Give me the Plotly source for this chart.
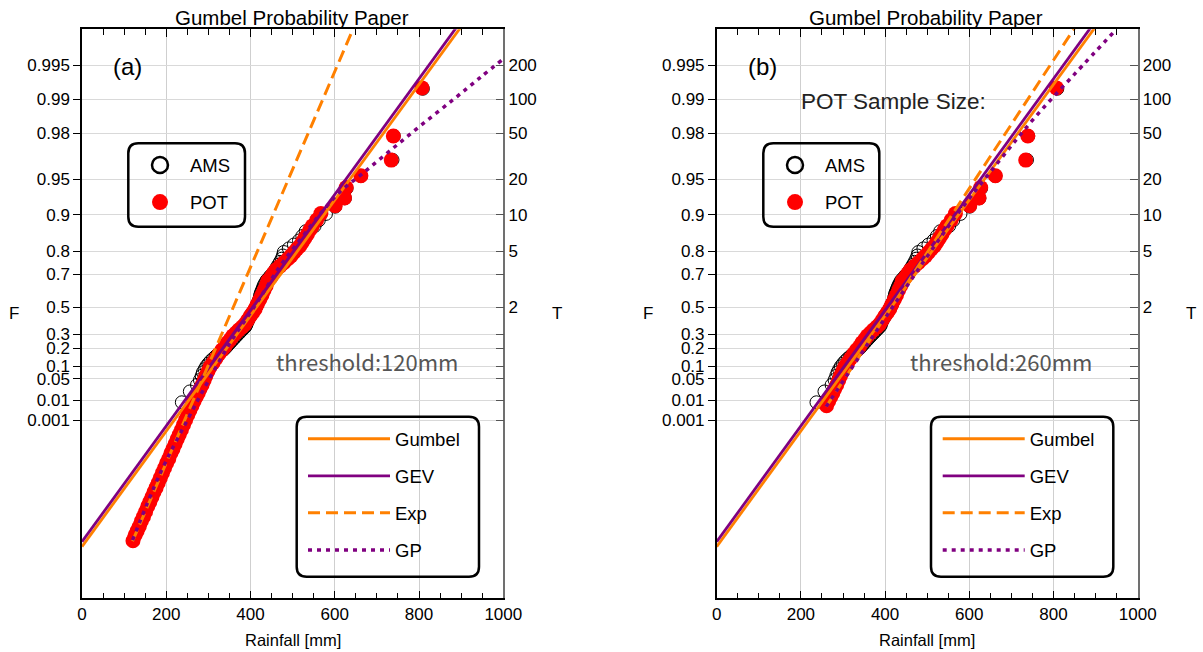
import math
import plotly.graph_objects as go

W, H = 1203, 652

# ---------------- data ----------------
F_ticks = [0.001, 0.01, 0.05, 0.1, 0.2, 0.3, 0.5, 0.7, 0.8, 0.9, 0.95, 0.98, 0.99, 0.995]
F_labels = ["0.001", "0.01", "0.05", "0.1", "0.2", "0.3", "0.5", "0.7", "0.8", "0.9",
            "0.95", "0.98", "0.99", "0.995"]
# return period labels (right axis) shown at the matching F levels
T_labels = ["", "", "", "", "", "", "2", "", "5", "10", "20", "50", "100", "200"]
x_ticks = [0, 200, 400, 600, 800, 1000]

# annual maximum series (mm), ranked largest first
ams_mm = [809, 740, 737, 662, 628, 624, 601, 579, 562, 552,
          531, 523, 515, 503, 491, 479, 477, 474, 470, 466,
          462, 458, 454, 448, 443, 438, 435, 432, 430, 428,
          426, 424, 423, 422, 421, 419, 417, 415, 413, 411,
          408, 405, 402, 400, 397, 395, 393, 391, 390, 388,
          384, 380, 376, 372, 368, 364, 360, 356, 352, 348,
          344, 340, 335, 329, 323, 317, 311, 305, 300, 295,
          291, 287, 284, 280, 273, 256, 237]

# peaks-over-threshold sample: rainfall (mm) and Gumbel reduced variate of its plotting position
pot_mm = [121, 126, 131, 136, 141, 146, 151, 156, 161, 166,
          171, 176, 181, 186, 191, 196, 201, 206, 211, 216,
          221, 226, 231, 236, 241, 246, 251, 256, 261, 266,
          271, 276, 280, 285, 290, 294, 299, 304, 311, 318,
          325, 332, 339, 345, 352, 358, 365, 372, 380, 387,
          393, 399, 405, 411, 416, 422, 427, 432, 437, 441,
          448, 454, 460, 470, 479, 489, 496, 503, 510, 517,
          523, 529, 535, 541, 547, 557, 567, 601, 623, 627,
          662, 734, 739, 807]
pot_rv = [-4.39, -4.28, -4.19, -4.10, -3.99, -3.90, -3.80, -3.69, -3.60, -3.50,
          -3.40, -3.31, -3.21, -3.11, -3.01, -2.91, -2.81, -2.72, -2.61, -2.52,
          -2.42, -2.32, -2.23, -2.13, -2.03, -1.93, -1.83, -1.74, -1.64, -1.55,
          -1.46, -1.38, -1.30, -1.22, -1.12, -1.03, -0.94, -0.85, -0.77, -0.68,
          -0.59, -0.51, -0.44, -0.36, -0.29, -0.22, -0.16, -0.10, -0.04, 0.02,
          0.10, 0.18, 0.25, 0.33, 0.42, 0.52, 0.61, 0.71, 0.80, 0.90,
          0.97, 1.05, 1.12, 1.20, 1.27, 1.35, 1.41, 1.48, 1.55, 1.61,
          1.69, 1.77, 1.85, 1.94, 2.02, 2.14, 2.27, 2.43, 2.59, 2.80,
          3.04, 3.36, 3.85, 4.83]

thresholds = [120, 260]

# fitted curves: rainfall (mm) vs Gumbel reduced variate
gumbel_mm = [0, 902]
gumbel_rv = [-4.51, 6.10]
gev_mm = [0, 892]
gev_rv = [-4.41, 6.10]
exp_mm = [[120, 647], [260, 854]]
exp_rv = [[-4.40, 6.10], [-1.66, 6.10]]
gp_mm = [[120, 185, 249, 297, 351, 415, 470, 517, 565, 612, 665, 731, 802, 881, 945, 1000],
         [260, 429, 565, 667, 755, 850, 949]]
gp_rv = [[-4.38, -3.03, -1.95, -1.18, -0.37, 0.45, 1.20, 1.73, 2.26, 2.71, 3.08, 3.55, 4.05, 4.59, 5.04, 5.42],
         [-1.66, 0.51, 2.18, 3.30, 4.22, 5.11, 6.02]]

panel_tags = ["(a)", "(b)"]

# ---------------- helpers ----------------
def rv(F):
    """Gumbel reduced variate (probability-paper scale)."""
    return -math.log(-math.log(F))

n_years = len(ams_mm)
ams_rv = [rv(1 - (i - 0.375) / (n_years + 0.25)) for i in range(1, n_years + 1)]  # Blom plotting positions

F_tickvals = [rv(f) for f in F_ticks]
YR = [-5.563, 6.023]

ORANGE = "#FF8000"
PURPLE = "#800080"
RED = "#FF0000"
FONT = "Liberation Sans, Arial, sans-serif"

def px_x(px):
    return px / W

def px_y(py):
    return 1 - py / H

# plot areas in px
panels = [dict(x0=82, x1=503.3), dict(x0=716.7, x1=1137.7)]
PY0, PY1 = 29.3, 598.3

fig = go.Figure()

for k, pan in enumerate(panels):
    xa = "x" if k == 0 else "x2"
    ya = "y" if k == 0 else "y2"
    ya_r = "y3" if k == 0 else "y4"
    leg_pts = "legend" if k == 0 else "legend3"
    leg_lines = "legend2" if k == 0 else "legend4"
    thr = thresholds[k]
    px_sel = [m for m in pot_mm if m >= thr]
    pv_sel = [v for m, v in zip(pot_mm, pot_rv) if m >= thr]

    # data points
    fig.add_trace(go.Scatter(x=ams_mm, y=ams_rv, mode="markers", xaxis=xa, yaxis=ya,
                             marker=dict(symbol="circle-open", size=13, color="black",
                                         line=dict(width=1, color="black")),
                             showlegend=False, name="AMS", hoverinfo="x+y"))
    fig.add_trace(go.Scatter(x=px_sel, y=pv_sel, mode="markers", xaxis=xa, yaxis=ya,
                             marker=dict(symbol="circle", size=15, color=RED, line=dict(width=0)),
                             showlegend=False, name="POT", hoverinfo="x+y"))
    # legend-only entries for the point symbols
    fig.add_trace(go.Scatter(x=[None], y=[None], mode="markers", xaxis=xa, yaxis=ya,
                             marker=dict(symbol="circle-open", size=16, color="black",
                                         line=dict(width=2.5, color="black")),
                             name="AMS", legend=leg_pts, legendgroup=f"ams{k}"))
    fig.add_trace(go.Scatter(x=[None], y=[None], mode="markers", xaxis=xa, yaxis=ya,
                             marker=dict(symbol="circle", size=16, color=RED),
                             name="POT", legend=leg_pts, legendgroup=f"pot{k}"))
    # fitted curves
    fig.add_trace(go.Scatter(x=gumbel_mm, y=gumbel_rv, mode="lines", xaxis=xa, yaxis=ya,
                             line=dict(color=ORANGE, width=2.8), name="Gumbel",
                             legend=leg_lines, legendgroup=f"gum{k}"))
    fig.add_trace(go.Scatter(x=gev_mm, y=gev_rv, mode="lines", xaxis=xa, yaxis=ya,
                             line=dict(color=PURPLE, width=2.8), name="GEV",
                             legend=leg_lines, legendgroup=f"gev{k}"))
    fig.add_trace(go.Scatter(x=exp_mm[k], y=exp_rv[k], mode="lines", xaxis=xa, yaxis=ya,
                             line=dict(color=ORANGE, width=3, dash="12px,6px"), name="Exp",
                             legend=leg_lines, legendgroup=f"exp{k}"))
    fig.add_trace(go.Scatter(x=gp_mm[k], y=gp_rv[k], mode="lines", xaxis=xa, yaxis=ya,
                             line=dict(color=PURPLE, width=3.5, dash="4px,5px", shape="spline"),
                             name="GP", legend=leg_lines, legendgroup=f"gp{k}"))
    # empty trace so the right-hand return-period axis is drawn
    fig.add_trace(go.Scatter(x=[None], y=[None], xaxis=xa, yaxis=ya_r, mode="markers",
                             showlegend=False, hoverinfo="skip"))

axis_font = dict(family=FONT, size=17, color="black")

def xaxis_def(k):
    pan = panels[k]
    return dict(domain=[px_x(pan["x0"]), px_x(pan["x1"])], range=[0, 1000],
                anchor="y" if k == 0 else "y2", automargin=False,
                tickmode="array", tickvals=x_ticks, ticktext=[str(v) for v in x_ticks],
                ticks="inside", ticklen=8, tickwidth=1, tickcolor="black",
                showline=True, linecolor="black", linewidth=1.5, mirror="ticks",
                showgrid=True, gridcolor="#cfcfcf", gridwidth=1, zeroline=False,
                minor=dict(dtick=50, tick0=0, ticks="inside", ticklen=6, tickcolor="black",
                           tickwidth=1, showgrid=False),
                tickfont=axis_font, fixedrange=True)

def yaxis_def(k):
    return dict(domain=[px_y(PY1), px_y(PY0)], range=YR,
                anchor="x" if k == 0 else "x2", automargin=False,
                tickmode="array", tickvals=F_tickvals, ticktext=F_labels,
                ticks="outside", ticklen=7, tickwidth=1, tickcolor="black",
                showline=True, linecolor="black", linewidth=1.5, mirror=False,
                showgrid=True, gridcolor="#d9d9d9", gridwidth=1, zeroline=False,
                tickfont=axis_font, fixedrange=True)

def yaxis_right(k):
    return dict(overlaying="y" if k == 0 else "y2", anchor="x" if k == 0 else "x2",
                side="right", range=YR, automargin=False,
                tickmode="array", tickvals=F_tickvals, ticktext=T_labels,
                ticks="inside", ticklen=8, tickwidth=1, tickcolor="#555555",
                showline=True, linecolor="#707070", linewidth=1.5,
                showgrid=False, zeroline=False, tickfont=axis_font, fixedrange=True)

def legend_def(left_px, top_px, itemwidth):
    return dict(x=px_x(left_px), y=px_y(top_px), xanchor="left", yanchor="top",
                bgcolor="rgba(0,0,0,0)", borderwidth=0, itemwidth=itemwidth,
                font=dict(family=FONT, size=18.5, color="black"),
                traceorder="grouped", tracegroupgap=10, itemclick=False, itemdoubleclick=False)

# rounded legend boxes
def rounded_box(x0, y0, x1, y1, r=10):
    def P(px, py):
        return f"{px_x(px):.5f},{px_y(py):.5f}"
    return ("M " + P(x0 + r, y0) + " L " + P(x1 - r, y0) +
            " Q " + P(x1, y0) + " " + P(x1, y0 + r) +
            " L " + P(x1, y1 - r) + " Q " + P(x1, y1) + " " + P(x1 - r, y1) +
            " L " + P(x0 + r, y1) + " Q " + P(x0, y1) + " " + P(x0, y1 - r) +
            " L " + P(x0, y0 + r) + " Q " + P(x0, y0) + " " + P(x0 + r, y0) + " Z")

boxes = [(128.3, 143.3, 245, 226.7), (296.7, 416.7, 479, 576.7),
         (763.3, 143.3, 879.3, 226.7), (931, 416.7, 1113.3, 576.7)]
shapes = [dict(type="path", xref="paper", yref="paper", path=rounded_box(*b),
               line=dict(color="black", width=2.5), fillcolor="rgba(0,0,0,0)", layer="above")
          for b in boxes]

annotations = []
def txt(s, xpx, ypx, size, color="black", family=FONT, xanchor="center"):
    annotations.append(dict(text=s, x=px_x(xpx), y=px_y(ypx), xref="paper", yref="paper",
                            showarrow=False, xanchor=xanchor, yanchor="middle",
                            font=dict(family=family, size=size, color=color)))

for k, pan in enumerate(panels):
    cx = (pan["x0"] + pan["x1"]) / 2
    off = pan["x0"] - panels[0]["x0"]
    txt("Gumbel Probability Paper", cx - 1, 18, 20.5)
    txt("Rainfall [mm]", cx, 640, 16.5)
    txt("F", 13.5 + off, 313, 17)
    txt("T", 556.5 + off, 313, 17)
    txt(panel_tags[k], 127.7 + off, 67, 24)
    txt(f"threshold:{thresholds[k]}mm", 367 + off, 361, 22, color="#555555",
        family="Noto Sans CJK JP, Liberation Sans, sans-serif")
txt("POT Sample Size:", 893, 102, 22.5, color="#222222")

fig.update_layout(
    width=W, height=H, autosize=False,
    margin=dict(l=0, r=0, t=0, b=0, autoexpand=False),
    paper_bgcolor="white", plot_bgcolor="white",
    font=dict(family=FONT, color="black"),
    xaxis=xaxis_def(0), xaxis2=xaxis_def(1),
    yaxis=yaxis_def(0), yaxis2=yaxis_def(1),
    yaxis3=yaxis_right(0), yaxis4=yaxis_right(1),
    legend=legend_def(130, 146.5, 50),
    legend2=legend_def(303, 420.2, 82),
    legend3=legend_def(765, 146.5, 50),
    legend4=legend_def(937.7, 420.2, 82),
    shapes=shapes, annotations=annotations,
    hovermode="closest",
)

fig.write_html("out.html")
